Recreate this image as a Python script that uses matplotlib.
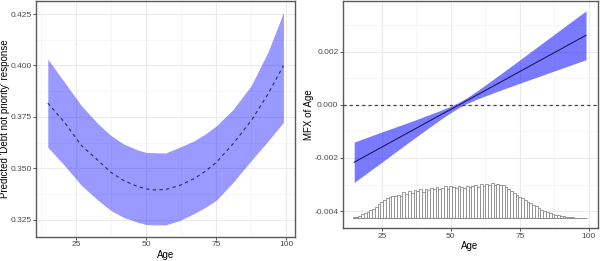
import matplotlib
matplotlib.use("Agg")
import matplotlib.pyplot as plt
import numpy as np

# ---------------- data ----------------
# Left panel: predicted probability by age
pred_age = [15, 21, 27, 33, 37.5, 42, 47, 50, 53, 57, 62, 67, 71, 75, 81, 87.5, 93.5, 99]
pred_fit = [0.3817, 0.3723, 0.3610, 0.3537, 0.3480, 0.3440, 0.3411, 0.3399, 0.3394,
            0.3396, 0.3416, 0.3448, 0.3483, 0.3527, 0.3618, 0.3731, 0.3861, 0.3999]
pred_hi = [0.4031, 0.3918, 0.3804, 0.3715, 0.3659, 0.3618, 0.3589, 0.3577, 0.3575,
           0.3574, 0.3602, 0.3632, 0.3665, 0.3705, 0.3785, 0.3902, 0.4065, 0.4258]
pred_lo = [0.3602, 0.3513, 0.3416, 0.3343, 0.3294, 0.3261, 0.3237, 0.3226, 0.3224,
           0.3224, 0.3245, 0.3278, 0.3308, 0.3343, 0.3430, 0.3537, 0.3632, 0.3723]

# Right panel: marginal effect of age
mfx_age = [15, 25, 35, 45, 50, 53, 56, 60, 70, 80, 90, 99]
mfx_fit = [-0.00216, -0.00159, -0.00102, -0.00045, -0.00017, 0.00000, 0.00017,
           0.00040, 0.00097, 0.00154, 0.00211, 0.00262]
mfx_hi = [-0.00140, -0.00102, -0.00065, -0.00026, -0.00005, 0.00010, 0.00028,
          0.00056, 0.00131, 0.00208, 0.00285, 0.00354]
mfx_lo = [-0.00292, -0.00216, -0.00139, -0.00064, -0.00029, -0.00010, 0.00006,
          0.00024, 0.00063, 0.00100, 0.00137, 0.00170]

# Age distribution (relative counts) for the rug histogram, ages 15..99
hist_age = list(range(15, 100))
hist_count = [2, 4, 7, 11, 15, 19, 23, 28, 33, 42,
              48, 53, 58, 62, 66, 64, 68, 66, 76, 72,
              79, 74, 82, 80, 85, 78, 86, 82, 89, 84,
              92, 86, 88, 94, 86, 95, 90, 88, 95, 92,
              89, 94, 90, 95, 98, 92, 99, 95, 100, 97,
              104, 98, 101, 96, 98, 90, 84, 80, 74, 68,
              62, 58, 52, 48, 44, 38, 34, 30, 25, 22,
              18, 15, 12, 10, 8, 6, 5, 4, 3, 2,
              1, 0.5, 0.3, 0.2, 0.1]
hist_base = -0.00426
hist_height = 0.00133

x_ticks = [25, 50, 75, 100]
left_yticks = [0.325, 0.350, 0.375, 0.400, 0.425]
right_yticks = [-0.004, -0.002, 0.000, 0.002]

# ---------------- style ----------------
plt.rcParams['font.family'] = ['Liberation Sans', 'DejaVu Sans']
TICK_FS = 6.0
TITLE_FS = 7.0
GRID_MAJ = '#ebebeb'
GRID_MIN = '#f3f3f3'
SPINE = '#5a5a5a'

fig = plt.figure(figsize=(6.0, 2.61), dpi=100)
ax1 = fig.add_axes([0.060, 0.092, 0.432, 0.905])
ax2 = fig.add_axes([0.571, 0.125, 0.425, 0.872])


def style(ax, xminor, yminor):
    ax.set_xticks(xminor, minor=True)
    ax.set_yticks(yminor, minor=True)
    ax.grid(which='major', color=GRID_MAJ, lw=0.8, zorder=0)
    ax.grid(which='minor', color=GRID_MIN, lw=0.5, zorder=0)
    ax.set_axisbelow(True)
    for s in ax.spines.values():
        s.set_color(SPINE)
        s.set_linewidth(1.0)
    ax.tick_params(which='major', length=2.2, width=0.6, color='#333333',
                   labelsize=TICK_FS, labelcolor='#4d4d4d', pad=0.8)
    ax.tick_params(which='minor', length=0)
    ax.set_xlabel('Age', fontsize=TITLE_FS, labelpad=1)


# ---- left panel ----
ax1.fill_between(pred_age, pred_lo, pred_hi, color='#0000ff', alpha=0.40,
                 lw=0, zorder=2)
ax1.plot(pred_age, pred_fit, color='#2b2b66', lw=0.8, ls=(0, (3, 3)), zorder=3)
ax1.set_xlim(10.8, 103.2)
ax1.set_ylim(0.3165, 0.4315)
ax1.set_xticks(x_ticks)
ax1.set_yticks(left_yticks)
ax1.set_yticklabels([f'{v:.3f}' for v in left_yticks])
style(ax1, [12.5, 37.5, 62.5, 87.5], [0.3375, 0.3625, 0.3875, 0.4125])
ax1.set_ylabel("Predicted 'Debt not priority' response", fontsize=TITLE_FS)
ax1.yaxis.set_label_coords(-0.102, 0.5)

# ---- right panel ----
ax2.fill_between(mfx_age, mfx_lo, mfx_hi, color='#0000ff', alpha=0.52,
                 lw=0, zorder=2)
ax2.plot(mfx_age, mfx_fit, color='#1a1a5e', lw=0.8, zorder=3)
ax2.axhline(0, color='#444444', lw=0.9, ls=(0, (2.5, 2.5)), zorder=3)
mx = max(hist_count)
heights = [c / mx * hist_height for c in hist_count]
ax2.bar(hist_age, heights, width=1.0, bottom=hist_base, color='white',
        edgecolor='#8a8a8a', linewidth=0.6, zorder=2)
ax2.plot([hist_age[0] - 0.5, hist_age[-1]], [hist_base, hist_base],
         color='#8a8a8a', lw=0.6, zorder=2)
ax2.set_xlim(10.8, 103.2)
ax2.set_ylim(-0.00465, 0.00392)
ax2.set_xticks(x_ticks)
ax2.set_yticks(right_yticks)
ax2.set_yticklabels([f'{v:.3f}' for v in right_yticks])
style(ax2, [12.5, 37.5, 62.5, 87.5], [-0.003, -0.001, 0.001, 0.003])
ax2.set_ylabel('MFX of Age', fontsize=TITLE_FS)
ax2.yaxis.set_label_coords(-0.112, 0.5)

fig.savefig('out.png', dpi=100)
